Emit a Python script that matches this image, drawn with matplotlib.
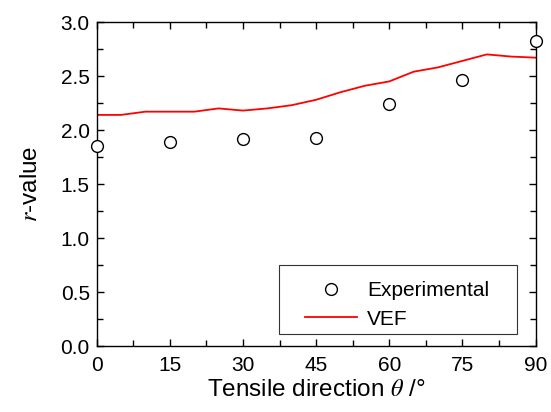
import numpy as np
import matplotlib
matplotlib.use('Agg')
import matplotlib.pyplot as plt
from matplotlib.ticker import MultipleLocator, FormatStrFormatter
from matplotlib.patches import Rectangle

plt.rcParams['font.family'] = ['Liberation Sans', 'DejaVu Sans']
plt.rcParams['mathtext.fontset'] = 'stix'

# experimental r-values
exp_angle = [0, 15, 30, 45, 60, 75, 90]
exp_r = [1.85, 1.89, 1.92, 1.93, 2.24, 2.46, 2.82]

# VEF prediction
vef_angle = [0, 5, 10, 15, 20, 25, 30, 35, 40, 45, 50, 55, 60, 65, 70, 75, 80, 85, 90]
vef_r = [2.14, 2.14, 2.17, 2.17, 2.17, 2.20, 2.18, 2.20, 2.23, 2.28, 2.35, 2.41,
         2.45, 2.54, 2.58, 2.64, 2.70, 2.68, 2.67]

fig = plt.figure(figsize=(5.51, 4.12), dpi=100)
ax = fig.add_axes([0.1755, 0.160, 0.7965, 0.7866])

ax.plot(exp_angle, exp_r, 'o', mfc='white', mec='black', mew=1.0, ms=8.5,
        clip_on=False, zorder=5, label='Experimental')
ax.plot(vef_angle, vef_r, '-', color='red', lw=1.3, label='VEF')

ax.set_xlim(0, 90)
ax.set_ylim(0, 3.0)
ax.xaxis.set_major_locator(MultipleLocator(15))
ax.xaxis.set_minor_locator(MultipleLocator(7.5))
ax.yaxis.set_major_locator(MultipleLocator(0.5))
ax.yaxis.set_minor_locator(MultipleLocator(0.25))
ax.yaxis.set_major_formatter(FormatStrFormatter('%.1f'))

ax.tick_params(which='both', direction='in', top=True, right=True, labelsize=15)
ax.tick_params(which='major', length=5, width=1)
ax.tick_params(which='minor', length=4, width=1)
ax.tick_params(axis='x', which='major', pad=7)
ax.tick_params(axis='y', which='major', pad=5)
for s in ax.spines.values():
    s.set_linewidth(1.0)

ax.set_xlabel(r'Tensile direction $\theta$ /°', fontsize=17.5, labelpad=3)
ax.set_ylabel(r'$r$-value', fontsize=17.5, labelpad=13)

# legend: entries without frame, box drawn separately
leg = ax.legend(loc='upper left', fontsize=15, frameon=False,
                handlelength=2.5, handletextpad=0.5, labelspacing=0.45,
                borderpad=0, borderaxespad=0,
                bbox_to_anchor=(0.474, 0.2))
ax.add_patch(Rectangle((0.415, 0.037), 0.542, 0.213, transform=ax.transAxes,
                       fill=False, edgecolor='#333333', lw=0.8, zorder=6))

fig.savefig('out.png', dpi=100)
